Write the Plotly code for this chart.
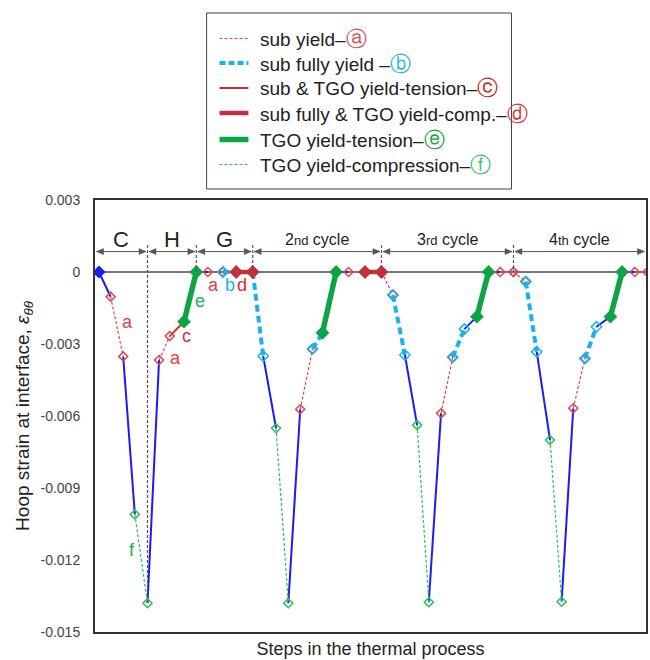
import plotly.graph_objects as go

# Position of each step along the thermal history and the hoop strain reached there
steps = [0.4, 1.57, 2.83, 4.0, 5.27, 6.43, 7.5, 8.93, 10.17, 11.33, 12.83, 14.17, 15.83,
         16.88, 18.17, 19.4, 20.6, 21.83, 22.83, 24.2, 25.45, 27.1, 28.75,
         29.9, 31.1, 32.33, 33.5, 34.73, 35.9, 37.07, 38.33, 39.5, 40.67, 42.0,
         43.23, 44.33, 45.67, 46.83, 48.0, 49.17, 50.33, 51.73, 52.9, 54.17, 55.43]
strain = [0.0, -0.00103, -0.00352, -0.01010, -0.01380, -0.00367, -0.00267, -0.00207,
          0.0, 0.0, 0.0, 0.0, 0.0,
          -0.00350, -0.00651, -0.01380, -0.00572, -0.00321, -0.00253, 0.0, 0.0, 0.0, 0.0,
          -0.00096, -0.00346, -0.00638, -0.01376, -0.00589, -0.00355, -0.00238, -0.00186,
          0.0, 0.0, 0.0,
          -0.00040, -0.00332, -0.00700, -0.01374, -0.00568, -0.00360, -0.00228, -0.00186,
          0.0, 0.0, 0.0]
# Yield state on each segment between consecutive steps ("el" = elastic)
segment_state = ["el", "a", "el", "f", "el", "a", "c", "e", "el", "a", "b", "d",
                 "b", "el", "f", "el", "a", "b", "e", "el", "a", "d",
                 "a", "b", "el", "f", "el", "a", "b", "el", "e", "el", "a",
                 "a", "b", "el", "f", "el", "a", "b", "el", "e", "el", "a"]

# Stages of the process: boundaries (in steps) and their names
phase_edges = [0.0, 5.27, 10.17, 15.83, 28.75, 42.0, 55.3]
phase_names = ["C", "H", "G", "2<span style='font-size:13px'>nd</span> cycle",
               "3<span style='font-size:13px'>rd</span> cycle",
               "4<span style='font-size:13px'>th</span> cycle"]

# Legend entries
legend_keys = ["a", "b", "c", "d", "e", "f"]
legend_text = ["sub yield–", "sub fully yield –", "sub &amp; TGO yield-tension–",
               "sub fully &amp; TGO yield-comp.–", "TGO yield-tension–",
               "TGO yield-compression–"]
legend_mark = ["ⓐ", "ⓑ", "ⓒ", "ⓓ", "ⓔ", "ⓕ"]

# Letter tags written next to the first-cycle segments
tag_steps = [3.27, 3.67, 8.1, 9.17, 10.5, 11.93, 13.5, 14.77]
tag_strain = [-0.00207, -0.01158, -0.00358, -0.00267, -0.00120, -0.00054, -0.00054, -0.00054]
tag_keys = ["a", "f", "a", "c", "e", "a", "b", "d"]

FONT = "Liberation Sans, Arial, sans-serif"

styles = {
    "el": dict(color="#1c1cf0", width=2.0, dash="solid", symbol=None, size=0),
    "a": dict(color="#dc4848", width=1.2, dash="3px,2px", symbol="diamond-open", size=7),
    "b": dict(color="#1ab2ec", width=4.0, dash="7px,4px", symbol="diamond-open", size=8),
    "c": dict(color="#c83030", width=2.0, dash="solid", symbol=None, size=0),
    "d": dict(color="#c4303a", width=4.5, dash="solid", symbol="diamond", size=9),
    "e": dict(color="#0ea446", width=5.5, dash="solid", symbol="diamond", size=9),
    "f": dict(color="#2fbf5a", width=1.2, dash="3px,2px", symbol="diamond-open", size=7),
}
tag_colors = {"a": "#e04040", "b": "#1ab2ec", "c": "#d03030", "d": "#d03030",
              "e": "#20b050", "f": "#20b050"}
mark_colors = {"a": "#e04848", "b": "#20b0f0", "c": "#c02020", "d": "#d03030",
               "e": "#10a040", "f": "#30c060"}

X_RANGE = [0, 55.3]
Y_RANGE = [-0.015, 0.003]
PLOT_W, PLOT_H = 553, 432
ux = (X_RANGE[1] - X_RANGE[0]) / PLOT_W      # step units per pixel
uy = (Y_RANGE[1] - Y_RANGE[0]) / PLOT_H      # strain units per pixel

fig = go.Figure()

draw_order = ["el", "c", "a", "f", "b", "d", "e"]
for state in draw_order:
    st = styles[state]
    for i, s in enumerate(segment_state):
        if s != state:
            continue
        mode = "lines+markers" if st["symbol"] else "lines"
        trace = dict(
            x=[steps[i], steps[i + 1]], y=[strain[i], strain[i + 1]],
            mode=mode, showlegend=False, hoverinfo="skip",
            line=dict(color=st["color"], width=st["width"], dash=st["dash"]),
        )
        if st["symbol"]:
            trace["marker"] = dict(symbol=st["symbol"], size=st["size"], color=st["color"],
                                   line=dict(color=st["color"], width=1.5))
        fig.add_trace(go.Scatter(**trace))

# starting state
fig.add_trace(go.Scatter(x=[steps[0]], y=[strain[0]], mode="markers", showlegend=False,
                         hoverinfo="skip",
                         marker=dict(symbol="diamond", size=10, color="#1c1cf0")))

# letter tags
for xs, ys, k in zip(tag_steps, tag_strain, tag_keys):
    fig.add_annotation(x=xs, y=ys, text=k, showarrow=False,
                       font=dict(family=FONT, size=18, color=tag_colors[k]))

# stage dividers, double arrows and names
arrow_y = 0.00085
label_y = 0.00135
divider_top = 0.00113
for edge in phase_edges[1:-1]:
    bottom = min(strain[steps.index(edge)], 0.0) if edge in steps else 0.0
    fig.add_shape(type="line", x0=edge, x1=edge, y0=divider_top, y1=bottom,
                  xref="x", yref="y", line=dict(color="#555", width=1.2, dash="3px,2px"))

head_len, head_half = 7 * ux, 3 * uy
for j, name in enumerate(phase_names):
    x0, x1 = phase_edges[j] + 1.5 * ux, phase_edges[j + 1] - 1.5 * ux
    fig.add_shape(type="line", x0=x0, x1=x1, y0=arrow_y, y1=arrow_y, xref="x", yref="y",
                  line=dict(color="#555", width=1))
    left = (f"M {x0},{arrow_y} L {x0 + head_len},{arrow_y + head_half} "
            f"L {x0 + head_len},{arrow_y - head_half} Z")
    right = (f"M {x1},{arrow_y} L {x1 - head_len},{arrow_y + head_half} "
             f"L {x1 - head_len},{arrow_y - head_half} Z")
    for p in (left, right):
        fig.add_shape(type="path", path=p, xref="x", yref="y",
                      fillcolor="#555", line=dict(color="#555", width=0.5))
    big = j < 3
    fig.add_annotation(x=(phase_edges[j] + phase_edges[j + 1]) / 2, y=label_y, text=name,
                       showarrow=False, yanchor="middle",
                       font=dict(family=FONT, size=22 if big else 16, color="#222"))


# legend box (positions in pixels converted to paper fractions)
def px_x(p):
    return (p - 95) / PLOT_W


def px_y(p):
    return (632 - p) / PLOT_H


fig.add_shape(type="rect", xref="paper", yref="paper",
              x0=px_x(207), x1=px_x(513), y0=px_y(189), y1=px_y(13),
              line=dict(color="#444", width=1), fillcolor="white")
rows = [38.5, 63, 88, 113, 139.5, 164.5]
for k, txt, mk, ry in zip(legend_keys, legend_text, legend_mark, rows):
    st = styles[k]
    dash = {"a": "3px,2px", "f": "3px,2px", "b": "6px,3px"}.get(k, "solid")
    fig.add_shape(type="line", xref="paper", yref="paper",
                  x0=px_x(220), x1=px_x(249), y0=px_y(ry), y1=px_y(ry),
                  line=dict(color=st["color"], width=st["width"], dash=dash))
    fig.add_annotation(xref="paper", yref="paper", x=px_x(259), y=px_y(ry),
                       xanchor="left", yanchor="middle", showarrow=False,
                       text=(f"{txt}<span style='color:{mark_colors[k]};font-size:21px'>"
                             f"{mk}</span>"),
                       font=dict(family=FONT, size=19, color="#222"))

fig.update_layout(
    width=650, height=660,
    margin=dict(l=95, r=2, t=200, b=28),
    paper_bgcolor="white", plot_bgcolor="white",
    font=dict(family=FONT, color="#222"),
    xaxis=dict(range=X_RANGE, showgrid=False, zeroline=False, showticklabels=False,
               ticks="", showline=True, mirror=True, linecolor="#333", linewidth=2,
               title=dict(text="Steps in the thermal process", standoff=9,
                          font=dict(family=FONT, size=18, color="#222"))),
    yaxis=dict(range=Y_RANGE, showgrid=False,
               tickvals=[0.003, 0, -0.003, -0.006, -0.009, -0.012, -0.015],
               ticktext=["0.003", "0", "-0.003", "-0.006", "-0.009", "-0.012", "-0.015"],
               tickfont=dict(family=FONT, size=14, color="#444"),
               ticks="", ticklabelstandoff=10,
               zeroline=True, zerolinecolor="#777", zerolinewidth=1.5,
               showline=True, mirror=True, linecolor="#333", linewidth=2,
               title=dict(text="Hoop strain at interface, <i>ε</i><sub><i>θθ</i></sub>",
                          standoff=6, font=dict(family=FONT, size=19, color="#222"))),
)

fig.write_html("out.html")
